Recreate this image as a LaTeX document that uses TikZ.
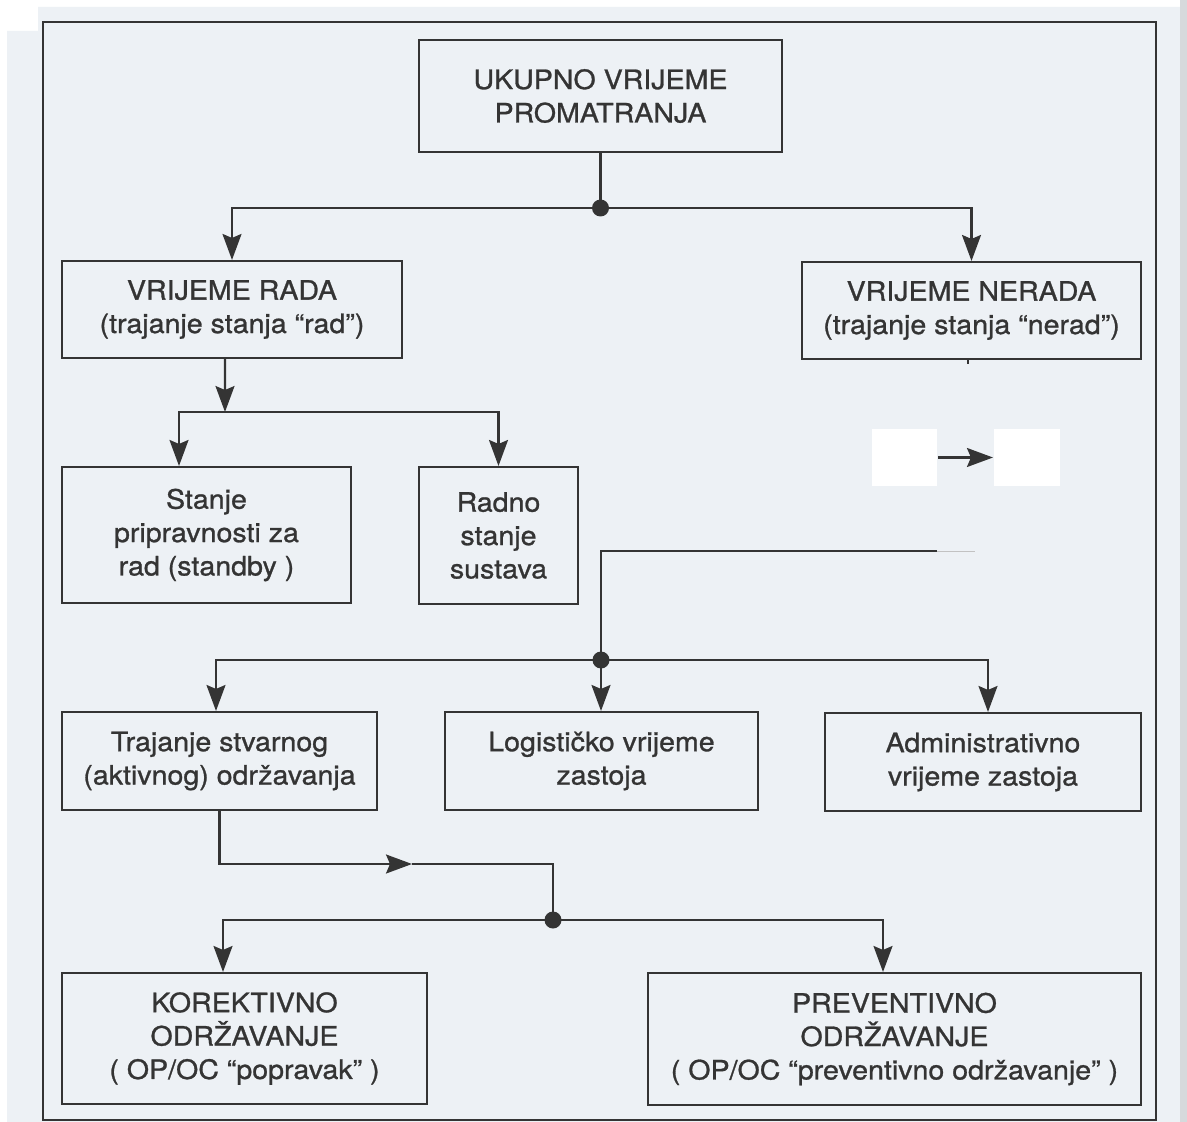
\documentclass[tikz,border=0pt]{standalone}
\usepackage{fontspec}
\setmainfont[FakeStretch=1.07,FakeBold=1.0]{TeX Gyre Heros}
\usepackage{tikz}
\usetikzlibrary{arrows.meta}

\definecolor{ink}{RGB}{52,52,52}
\definecolor{paper}{RGB}{237,241,245}
\definecolor{pageedge}{RGB}{214,217,220}

\begin{document}
\begin{tikzpicture} [->,>={Stealth[length=0.52cm,width=0.38cm,inset=0.08cm]},x=0.02cm,y=-0.02cm,line width=1.2pt,color=ink]
  \tikzstyle{box}=[draw,align=center,inner sep=0pt,font=\fontsize{15.2}{19}\selectfont]
  \tikzstyle{blank}=[fill=white,inner sep=0pt]

  % scanned page
  \useasboundingbox (0,0) rectangle (1187,1122);
  \fill[white] (0,0) rectangle (1187,1122);
  \fill[paper] (38,7) -- (1180,7) -- (1180,1122) -- (7,1122) -- (7,31) -- (38,31) -- cycle;
  \fill[pageedge] (1180,0) rectangle (1187,1122);
  \draw[-] (43,22) rectangle (1156,1120);

  \node[box,minimum width=7.26cm,minimum height=2.24cm] (ukupno)   at (600.5,96)    {UKUPNO VRIJEME\\PROMATRANJA};
  \node[box,minimum width=6.8cm,minimum height=1.94cm]  (rada)     at (232,309.5)   {VRIJEME RADA\\(trajanje stanja “rad”)};
  \node[box,minimum width=6.78cm,minimum height=1.94cm] (nerada)   at (971.5,310.5) {VRIJEME NERADA\\(trajanje stanja “nerad”)};
  \node[box,minimum width=5.78cm,minimum height=2.72cm] (stanje)   at (206.5,535)   {Stanje\\pripravnosti za\\rad (standby )};
  \node[box,minimum width=3.18cm,minimum height=2.74cm] (radno)    at (498.5,535.5) {Radno\\stanje\\sustava};
  \node[box,minimum width=6.3cm,minimum height=1.96cm]  (trajanje) at (219.5,761)   {Trajanje stvarnog\\(aktivnog) održavanja};
  \node[box,minimum width=6.26cm,minimum height=1.96cm] (logist)   at (601.5,761)   {Logističko vrijeme\\zastoja};
  \node[box,minimum width=6.32cm,minimum height=1.96cm] (admin)    at (983,762)     {Administrativno\\vrijeme zastoja};
  \node[box,minimum width=7.3cm,minimum height=2.62cm]  (korekt)   at (244.5,1038.5) {KOREKTIVNO\\ODRŽAVANJE\\( OP/OC “popravak” )};
  \node[box,minimum width=9.86cm,minimum height=2.64cm] (prevent)  at (894.5,1039)  {PREVENTIVNO\\ODRŽAVANJE\\( OP/OC “preventivno održavanje” )};
  \node[blank,minimum width=1.3cm,minimum height=1.14cm]  (w1) at (904.5,457.5) {};
  \node[blank,minimum width=1.32cm,minimum height=1.14cm] (w2) at (1027,457.5)  {};

  \coordinate (d1)  at (600.5,208);
  \coordinate (j2)  at (225,412);
  \coordinate (c3)  at (937,551);
  \coordinate (c3b) at (975,551);
  \coordinate (k3)  at (601,551);
  \coordinate (d3)  at (601,660);
  \coordinate (m4)  at (412,864);
  \coordinate (d4)  at (553,920);

  % total time
  \draw[-] (ukupno) -- (d1);
  \draw (d1) -| (rada);
  \draw (d1) -| (nerada);
  \fill (d1) circle (0.17cm);

  % up time
  \draw ([xshift=-0.14cm]rada.south) -- (j2);
  \draw (j2) -| ([xshift=-0.55cm]stanje.north);
  \draw (j2) -| (radno);

  % down time
  \draw[-] ([xshift=-0.07cm]nerada.south) -- ++(0,4);
  \draw (w1) -- (w2);
  \draw[-] (c3) -- (k3) -- (d3);
  \draw[-,ink!30,line width=0.5pt] (c3) -- (c3b);
  \fill (d3) circle (0.17cm);
  \draw (d3) -| ([xshift=-0.07cm]trajanje.north);
  \draw (d3) -- (d3 |- logist.north);
  \draw (d3) -| ([xshift=0.1cm]admin.north);

  % maintenance
  \draw (trajanje) |- (m4);
  \draw[-] (m4) -| (d4);
  \fill (d4) circle (0.17cm);
  \draw (d4) -| ([xshift=-0.43cm]korekt.north);
  \draw (d4) -| ([xshift=-0.23cm]prevent.north);
\end{tikzpicture}
\end{document}
